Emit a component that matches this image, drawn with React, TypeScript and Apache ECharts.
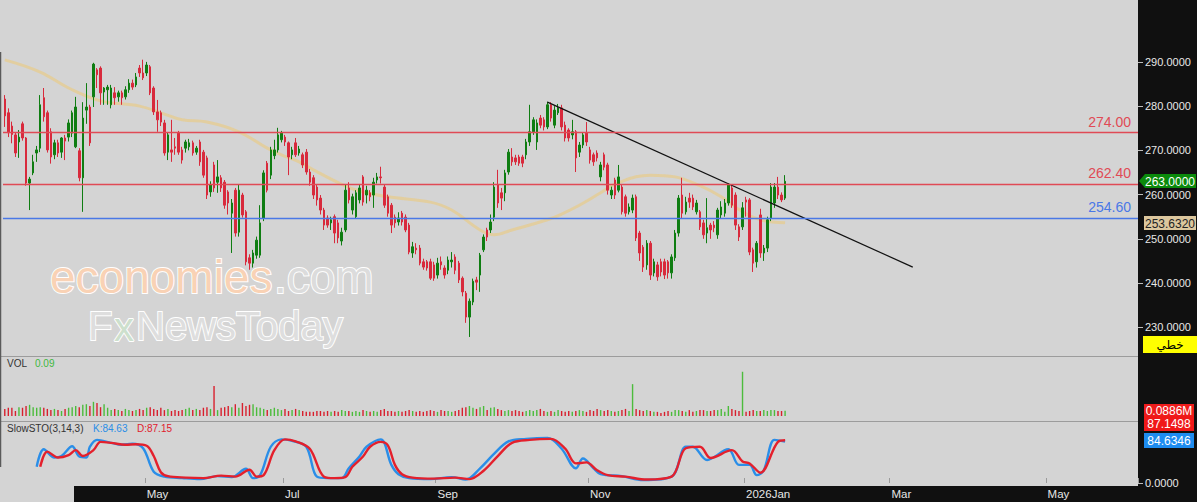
import React, { useEffect, useRef } from 'react';
import * as echarts from 'echarts';

// ---------- data ----------
// one row per trading day: [open, close, low, high]
const ohlc: number[][] = [
  [281.6, 277.8, 275.3, 282.5], [278.5, 274.0, 273.0, 279.5], [275.5, 273.6, 271.6, 276.5], [273.5, 269.4, 268.5, 274.0],
  [271.9, 273.0, 268.3, 274.6], [276.0, 272.8, 272.2, 276.5], [272.8, 262.6, 262.0, 273.0], [262.6, 263.5, 256.5, 264.0],
  [264.9, 267.4, 264.4, 269.0], [269.4, 270.1, 267.4, 271.0], [270.5, 280.3, 269.6, 282.5], [281.9, 277.6, 276.5, 284.1],
  [278.5, 270.1, 269.5, 279.0], [274.2, 268.5, 267.0, 275.0], [269.0, 271.7, 268.0, 272.4], [271.7, 269.4, 268.5, 272.4],
  [269.6, 272.8, 268.3, 273.0], [272.8, 272.1, 267.8, 273.5], [273.0, 276.2, 272.0, 277.0], [273.9, 278.5, 273.0, 279.0],
  [270.8, 279.8, 270.5, 282.1], [269.9, 263.8, 263.0, 270.5], [263.8, 277.3, 256.1, 280.9], [279.1, 279.8, 276.0, 285.2],
  [279.8, 271.7, 271.0, 280.3], [282.1, 289.5, 279.8, 289.8], [288.2, 287.1, 284.1, 288.6], [288.6, 283.0, 280.3, 289.0],
  [283.2, 284.1, 280.3, 284.3], [283.7, 284.3, 280.3, 284.8], [280.3, 284.1, 279.5, 284.8], [283.0, 281.9, 280.3, 284.3],
  [282.1, 283.0, 281.0, 283.5], [283.0, 281.9, 280.3, 283.5], [282.1, 283.7, 281.5, 284.5], [283.7, 285.2, 283.0, 286.1],
  [285.2, 284.3, 283.7, 286.0], [284.8, 286.6, 284.3, 287.5], [288.6, 287.5, 286.6, 289.3], [287.5, 286.4, 285.9, 290.5],
  [287.5, 289.3, 286.8, 290.0], [288.9, 283.0, 282.5, 289.3], [284.1, 278.7, 278.0, 284.5], [278.7, 276.9, 274.2, 281.4],
  [278.5, 276.4, 275.5, 279.0], [276.2, 269.4, 268.8, 276.9], [269.6, 273.5, 267.8, 274.0], [270.1, 269.6, 267.4, 276.9],
  [270.8, 270.5, 269.0, 272.8], [273.9, 269.6, 269.0, 274.4], [270.1, 267.8, 267.0, 270.8], [270.5, 271.9, 269.5, 272.4],
  [270.8, 271.7, 270.0, 272.6], [271.7, 269.4, 268.8, 272.2], [269.6, 270.5, 269.0, 271.0], [271.9, 267.4, 266.5, 272.4],
  [269.6, 264.4, 263.8, 270.1], [268.3, 259.9, 259.0, 268.8], [260.6, 262.2, 259.5, 263.0], [266.7, 261.5, 260.6, 267.4],
  [262.8, 264.0, 260.4, 267.8], [263.8, 261.5, 260.6, 264.4], [262.8, 257.6, 256.8, 263.3], [260.6, 258.1, 255.5, 261.0],
  [255.8, 258.1, 246.8, 259.0], [261.0, 251.3, 250.5, 261.5], [251.5, 261.0, 250.5, 262.2], [259.9, 255.4, 254.8, 260.4],
  [256.1, 244.8, 244.0, 256.5], [245.7, 244.5, 243.0, 246.5], [244.5, 246.8, 243.5, 247.5], [246.3, 249.7, 245.5, 250.5],
  [246.3, 253.6, 245.7, 257.6], [254.7, 264.9, 254.0, 265.5], [267.1, 261.0, 260.5, 267.6], [264.4, 270.1, 263.5, 270.8],
  [268.8, 270.1, 268.0, 272.4], [270.1, 273.5, 269.5, 275.1], [272.4, 273.9, 271.8, 274.4], [273.0, 271.9, 271.0, 273.5],
  [271.7, 268.5, 264.4, 272.0], [269.0, 270.1, 268.0, 270.8], [271.7, 269.0, 268.5, 272.8], [269.4, 270.3, 268.8, 271.0],
  [269.0, 266.7, 266.0, 269.5], [269.6, 265.1, 264.5, 270.3], [265.1, 262.8, 262.0, 265.8], [263.8, 259.9, 259.0, 264.4],
  [261.7, 258.8, 257.5, 262.2], [259.2, 256.5, 255.5, 259.9], [256.5, 253.1, 252.0, 257.0], [254.7, 253.1, 252.5, 255.3],
  [253.6, 254.3, 252.0, 255.0], [255.0, 251.3, 249.0, 255.5], [253.6, 250.2, 249.0, 254.3], [249.5, 251.5, 248.5, 252.5],
  [252.0, 261.0, 251.5, 262.2], [261.5, 258.8, 258.0, 262.8], [256.5, 259.5, 255.5, 260.2], [255.0, 260.4, 254.5, 261.0],
  [258.8, 261.5, 258.0, 262.2], [264.0, 258.3, 257.5, 264.4], [259.9, 261.0, 258.0, 262.0], [260.4, 259.5, 258.5, 261.0],
  [259.9, 262.8, 257.0, 263.8], [263.3, 264.0, 262.5, 264.9], [264.0, 263.8, 262.5, 266.3], [261.7, 257.6, 257.0, 262.2],
  [259.5, 255.8, 255.0, 260.0], [257.6, 253.1, 251.3, 258.1], [254.9, 253.6, 252.5, 255.5], [253.8, 254.7, 253.0, 256.0],
  [255.8, 253.8, 253.0, 256.3], [254.9, 252.0, 251.5, 255.5], [253.1, 247.0, 246.5, 253.6], [246.8, 248.2, 245.7, 249.3],
  [247.9, 247.5, 246.5, 249.0], [247.9, 244.5, 244.0, 248.6], [244.8, 243.6, 243.0, 245.5], [244.8, 243.4, 242.8, 245.2],
  [244.8, 241.1, 240.7, 245.5], [244.1, 241.1, 240.5, 244.8], [241.8, 244.5, 241.0, 245.7], [244.8, 244.1, 243.0, 246.0],
  [243.4, 241.8, 241.0, 244.0], [242.9, 245.2, 242.0, 246.0], [244.8, 245.2, 243.5, 247.0], [245.9, 242.9, 242.0, 246.5],
  [244.5, 240.7, 240.0, 245.0], [241.1, 238.0, 237.0, 241.5], [237.7, 232.3, 231.0, 238.2], [232.3, 235.9, 227.8, 236.5],
  [235.7, 240.4, 235.0, 241.0], [240.7, 240.2, 238.4, 241.4], [241.8, 246.3, 238.0, 246.8], [247.5, 250.4, 247.0, 251.0],
  [252.0, 250.4, 249.5, 252.5], [252.0, 253.8, 251.3, 255.5], [254.9, 261.7, 254.0, 262.8], [262.2, 258.1, 257.0, 265.6],
  [260.4, 259.2, 256.5, 261.5], [260.4, 264.9, 258.5, 265.6], [265.1, 269.6, 264.5, 270.3], [268.5, 267.4, 266.5, 270.5],
  [268.3, 267.4, 266.7, 269.0], [268.5, 267.1, 266.5, 269.0], [268.5, 267.1, 266.2, 269.0], [269.0, 271.9, 268.0, 272.6],
  [271.9, 274.2, 271.0, 280.3], [274.2, 276.9, 273.5, 277.5], [271.9, 276.2, 270.1, 277.0], [277.3, 275.7, 275.0, 278.0],
  [276.9, 275.3, 274.5, 277.5], [275.3, 280.3, 274.8, 281.0], [280.3, 277.3, 276.5, 280.9], [275.7, 279.1, 275.0, 280.0],
  [278.5, 279.6, 278.0, 280.5], [279.6, 275.3, 274.5, 280.3], [275.7, 272.8, 272.0, 276.5], [274.6, 272.8, 272.0, 275.0],
  [273.5, 274.2, 272.5, 276.9], [274.2, 268.3, 265.1, 274.6], [269.6, 271.2, 268.5, 271.9], [271.2, 273.5, 270.5, 274.0],
  [273.9, 271.9, 271.0, 276.4], [270.1, 267.8, 267.0, 270.8], [269.0, 267.4, 266.5, 269.5], [269.4, 268.3, 267.5, 270.0],
  [264.0, 266.7, 263.0, 267.4], [269.0, 266.2, 265.5, 269.5], [266.7, 261.0, 260.0, 267.2], [259.9, 261.0, 259.0, 261.8],
  [263.3, 259.9, 259.0, 263.8], [261.0, 264.0, 260.5, 266.7], [261.7, 256.1, 255.5, 262.2], [259.5, 255.8, 255.0, 260.0],
  [256.1, 257.2, 255.5, 258.0], [256.5, 259.2, 255.8, 260.0], [259.5, 250.2, 249.5, 260.0], [251.3, 246.8, 245.0, 251.8],
  [248.1, 243.6, 242.5, 248.6], [244.1, 249.0, 243.0, 249.7], [249.0, 241.8, 240.7, 249.5], [242.3, 244.8, 241.5, 245.5],
  [244.1, 241.4, 240.5, 244.8], [244.8, 242.5, 241.5, 245.5], [244.8, 241.8, 240.9, 245.5], [244.8, 242.3, 241.0, 245.2],
  [242.3, 245.9, 241.0, 246.5], [245.7, 251.3, 245.0, 252.0], [251.3, 259.2, 250.5, 259.9], [259.9, 255.8, 254.5, 263.8],
  [256.1, 258.3, 255.5, 259.5], [259.2, 258.3, 257.0, 260.4], [259.2, 257.2, 256.5, 260.0], [256.1, 258.1, 255.5, 258.8],
  [256.1, 252.7, 252.0, 256.5], [253.6, 250.9, 250.0, 254.3], [251.3, 252.5, 249.0, 259.2], [253.1, 252.0, 250.0, 253.6],
  [253.1, 252.5, 251.5, 254.0], [250.9, 256.5, 250.0, 257.0], [255.4, 257.2, 254.5, 258.5], [255.8, 258.1, 255.0, 259.0],
  [258.1, 262.2, 257.5, 262.6], [261.5, 257.6, 257.0, 262.2], [259.9, 253.1, 252.0, 260.5], [252.7, 250.4, 249.5, 253.3],
  [252.7, 257.0, 252.0, 258.3], [258.8, 258.3, 255.0, 259.5], [258.8, 247.0, 246.3, 259.2], [247.5, 244.5, 242.5, 248.0],
  [244.8, 249.0, 243.5, 249.5], [255.4, 246.8, 245.7, 256.8], [246.8, 247.9, 245.0, 248.6], [247.9, 254.3, 247.0, 255.0],
  [254.7, 261.7, 254.0, 262.6], [258.1, 261.7, 257.0, 262.6], [261.7, 259.9, 259.0, 264.0], [259.9, 258.8, 258.3, 260.5],
  [259.2, 263.0, 258.8, 264.4],
];

// volume in millions, one per trading day
const volumes: number[] = [
  0.12, 0.14, 0.14, 0.085, 0.15, 0.14, 0.17, 0.19, 0.15, 0.14,
  0.15, 0.14, 0.12, 0.10, 0.12, 0.10, 0.085, 0.12, 0.14, 0.15,
  0.17, 0.15, 0.19, 0.20, 0.17, 0.24, 0.22, 0.15, 0.20, 0.14,
  0.10, 0.12, 0.10, 0.085, 0.12, 0.10, 0.085, 0.10, 0.12, 0.10,
  0.14, 0.15, 0.12, 0.10, 0.14, 0.10, 0.12, 0.085, 0.10, 0.085,
  0.10, 0.12, 0.14, 0.10, 0.12, 0.10, 0.14, 0.15, 0.12, 0.51,
  0.10, 0.14, 0.15, 0.17, 0.15, 0.20, 0.14, 0.22, 0.17, 0.19,
  0.20, 0.15, 0.14, 0.12, 0.10, 0.12, 0.14, 0.12, 0.10, 0.12,
  0.085, 0.10, 0.12, 0.10, 0.085, 0.07, 0.07, 0.07, 0.085, 0.085,
  0.07, 0.085, 0.07, 0.085, 0.07, 0.10, 0.085, 0.085, 0.07, 0.085,
  0.07, 0.10, 0.085, 0.07, 0.085, 0.07, 0.10, 0.12, 0.085, 0.085,
  0.07, 0.085, 0.07, 0.085, 0.10, 0.085, 0.07, 0.085, 0.07, 0.085,
  0.10, 0.085, 0.07, 0.10, 0.085, 0.085, 0.07, 0.085, 0.10, 0.14,
  0.15, 0.17, 0.14, 0.12, 0.15, 0.17, 0.10, 0.14, 0.15, 0.12,
  0.10, 0.085, 0.10, 0.085, 0.10, 0.085, 0.07, 0.085, 0.10, 0.085,
  0.10, 0.12, 0.085, 0.07, 0.085, 0.07, 0.10, 0.085, 0.07, 0.085,
  0.07, 0.085, 0.10, 0.085, 0.07, 0.10, 0.085, 0.12, 0.10, 0.085,
  0.10, 0.085, 0.07, 0.085, 0.10, 0.12, 0.085, 0.54, 0.12, 0.10,
  0.085, 0.10, 0.085, 0.07, 0.07, 0.05, 0.07, 0.085, 0.07, 0.10,
  0.10, 0.085, 0.07, 0.10, 0.07, 0.085, 0.10, 0.10, 0.085, 0.085,
  0.10, 0.10, 0.12, 0.07, 0.17, 0.12, 0.10, 0.085, 0.75, 0.07,
  0.085, 0.10, 0.085, 0.085, 0.10, 0.085, 0.10, 0.10, 0.085, 0.085,
  0.0886,
];

// moving average read at selected bars: [bar index, value]
const maPoints: number[][] = [
  [0, 290.45], [10, 287.7], [18, 284.1], [27, 281.2], [38, 280.0], [45, 278.2], [50, 276.9], [57, 276.4],
  [66, 274.2], [74, 270.5], [78, 269.0], [83, 267.4], [87, 265.6], [94, 262.7], [100, 260.8], [108, 259.5],
  [120, 258.3], [126, 256.5], [134, 252.0], [138, 250.9], [143, 252.0], [153, 254.3], [157, 255.6], [162, 257.6],
  [168, 260.4], [173, 262.7], [182, 264.4], [189, 264.0], [196, 262.0], [202, 259.5], [208, 256.1], [213, 254.3],
  [220, 253.632],
];

// slow stochastic %K and %D read at selected bars: [bar index, value]
const kPoints: number[][] = [
  [9, 33], [11, 69], [14, 52], [16, 55], [19, 75], [21, 54], [23, 52], [24, 74], [26, 88], [30, 82], [33, 78],
  [36, 80], [39, 71], [42, 23], [45, 13], [50, 10], [55, 8], [60, 14], [64, 12], [68, 29], [70, 10], [72, 16],
  [75, 74], [78, 89], [81, 86], [85, 74], [88, 13], [91, 10], [95, 10], [97, 30], [100, 54], [102, 74], [106, 89],
  [109, 37], [111, 18], [114, 10], [120, 8], [126, 12], [130, 7], [134, 30], [138, 60], [142, 85], [147, 90],
  [153, 92], [157, 70], [161, 30], [163, 50], [166, 30], [168, 18], [174, 14], [180, 6], [188, 13], [192, 74],
  [194, 74], [198, 47], [204, 69], [207, 37], [210, 37], [212, 16], [214, 26], [217, 88], [220, 84.63],
];
const dPoints: number[][] = [
  [10, 33], [12, 64], [15, 52], [18, 57], [20, 67], [22, 55], [25, 67], [27, 84], [30, 82], [34, 78], [37, 79],
  [40, 76], [42, 55], [44, 22], [46, 14], [51, 11], [56, 10], [61, 15], [65, 13], [69, 27], [71, 13], [73, 16],
  [76, 67], [79, 89], [82, 85], [86, 70], [90, 13], [93, 10], [96, 12], [98, 33], [101, 54], [103, 74], [106, 84],
  [108, 77], [110, 37], [112, 18], [115, 11], [121, 9], [127, 11], [131, 8], [135, 25], [139, 55], [143, 82],
  [148, 88], [154, 90], [158, 70], [161, 40], [164, 42], [167, 26], [170, 16], [175, 13], [181, 7], [188, 13],
  [192, 71], [196, 74], [199, 51], [205, 67], [208, 44], [210, 40], [213, 21], [218, 84], [220, 87.15],
];

// trend line end points: [bar index, value]
const trendPoints: number[][] = [[153, 280.9], [256, 243.6]];

// horizontal levels
const levelValues = [274.0, 262.4, 254.6];
const levelColors = ['#e04a55', '#e04a55', '#4a78e6'];

// axis ticks
const priceTicks = [230, 240, 250, 260, 270, 280, 290];
const slotCount = 320;
const monthTickIndex = [40, 79, 122, 165, 209, 250, 294];
const monthLabels = ['May', 'Jul', 'Sep', 'Nov', '2026Jan', 'Mar', 'May'];

// last-value tags
const lastPrice = '263.0000';
const lastMa = '253.6320';
const lastVol = '0.0886M';
const lastD = '87.1498';
const lastK = '84.6346';

// ---------- layout ----------
const FONT = '"Liberation Sans", Arial, sans-serif';
const UP = '#0f7d12';
const DOWN = '#d82a3c';
const VUP = '#4cbc3c';
const VDOWN = '#d8202e';

export default function App() {
  const ref = useRef<HTMLDivElement>(null);

  useEffect(() => {
    document.body.style.margin = '0';
    const chart = echarts.init(ref.current!, null, { renderer: 'svg' });

    const categories = Array.from({ length: slotCount }, (_, i) => String(i));
    const tickSet = new Set(monthTickIndex);
    const labelOf: Record<number, string> = {};
    monthTickIndex.forEach((idx, i) => (labelOf[idx] = monthLabels[i]));

    const gridL = 3;
    const gridR = 59;
    const hiddenX = (gi: number) => ({
      type: 'category',
      gridIndex: gi,
      data: categories,
      boundaryGap: true,
      axisLine: { show: false },
      axisTick: { show: false },
      axisLabel: { show: false },
      splitLine: { show: false },
    });

    const volData = volumes.map((v, i) => ({
      value: v,
      itemStyle: { color: ohlc[i][1] >= ohlc[i][0] ? VUP : VDOWN },
    }));

    const txt = (text: string, x: number, y: number, fill: string, size: number) => ({
      type: 'text',
      x,
      y,
      z: 50,
      silent: true,
      style: {
        text,
        fill,
        font: `${size}px ${FONT}`,
        textAlign: 'left',
        textVerticalAlign: 'middle',
      },
    });

    const mark = (text: string, x: number, y: number, size: number, fill: string) => ({
      type: 'text',
      z: -5,
      silent: true,
      x,
      y,
      style: {
        text,
        font: `${size}px ${FONT}`,
        fill,
        stroke: '#ffffff',
        lineWidth: 2,
        textAlign: 'left',
        textVerticalAlign: 'middle',
      },
    });

    const tag = (text: string, x: number, y: number, w: number, h: number, bg: string, fg: string, font?: string) => [
      { type: 'rect', z: 60, silent: true, shape: { x, y, width: w, height: h }, style: { fill: bg } },
      {
        type: 'text',
        z: 61,
        silent: true,
        x: x + w / 2,
        y: y + h / 2 + 0.5,
        style: { text, fill: fg, font: font || `12px ${FONT}`, textAlign: 'center', textVerticalAlign: 'middle' },
      },
    ];

    const graphic: any[] = [
      // black right scale strip and bottom time bar
      { type: 'rect', z: -10, silent: true, shape: { x: 1138, y: 0, width: 59, height: 502 }, style: { fill: '#101010' } },
      { type: 'rect', z: -10, silent: true, shape: { x: 74, y: 486, width: 1064, height: 16 }, style: { fill: '#101010' } },
      // panel separators
      { type: 'line', z: -9, silent: true, shape: { x1: 0, y1: 356.5, x2: 1138, y2: 356.5 }, style: { stroke: '#9c9c9c', lineWidth: 1 } },
      { type: 'line', z: -9, silent: true, shape: { x1: 0, y1: 421.5, x2: 1138, y2: 421.5 }, style: { stroke: '#9c9c9c', lineWidth: 1 } },
      { type: 'line', z: -9, silent: true, shape: { x1: 0.5, y1: 52, x2: 0.5, y2: 467 }, style: { stroke: '#5a5a5a', lineWidth: 1.5 } },
      // watermark
      mark('economies', 50, 277, 46, '#f9d2b5'),
      mark('.com', 274, 277, 46, '#dcdcdc'),
      mark('F', 88, 326, 40, '#dedede'),
      mark('x', 114, 327, 40, '#cde0cd'),
      mark('NewsToday', 136, 326, 40, '#dedede'),
      // panel legends
      txt('VOL', 7, 363, '#333333', 10),
      txt('0.09', 35, 363, '#3fb83f', 10),
      txt('SlowSTO(3,14,3)', 7, 428, '#333333', 10),
      txt('K:84.63', 93, 428, '#2a8ee6', 10),
      txt('D:87.15', 137, 428, '#e0202c', 10),
      // last price tag with arrow
      {
        type: 'polygon', z: 60, silent: true,
        shape: { points: [[1139, 181], [1145, 174], [1196, 174], [1196, 188], [1145, 188]] },
        style: { fill: '#0b8a0b' },
      },
      {
        type: 'text', z: 61, silent: true, x: 1170, y: 181.5,
        style: { text: lastPrice, fill: '#ffffff', font: `12px ${FONT}`, textAlign: 'center', textVerticalAlign: 'middle' },
      },
      ...tag(lastMa, 1144, 216, 52, 14, '#dcc79e', '#222222'),
      ...tag('خطي', 1143, 336, 54, 17, '#ffff00', '#000000', '12px "DejaVu Sans", sans-serif'),
      ...tag(lastVol, 1144, 404, 50, 13, '#ee1c1c', '#ffffff'),
      ...tag(lastD, 1144, 416, 50, 15, '#f01818', '#ffffff'),
      ...tag(lastK, 1144, 433, 50, 15, '#1e8cf0', '#ffffff'),
    ];

    const option: any = {
      animation: false,
      backgroundColor: '#d4d4d4',
      textStyle: { fontFamily: FONT },
      grid: [
        { left: gridL, right: gridR, top: 0, height: 356 },
        { left: gridL, right: gridR, top: 357, height: 59 },
        { left: gridL, right: gridR, top: 434, height: 49 },
      ],
      xAxis: [
        hiddenX(0),
        hiddenX(1),
        {
          ...hiddenX(2),
          axisTick: {
            show: true,
            inside: true,
            length: 5,
            interval: (i: number) => tickSet.has(i),
            lineStyle: { color: '#9a9a9a' },
          },
          axisLabel: {
            show: true,
            interval: (i: number) => tickSet.has(i),
            formatter: (v: string) => labelOf[Number(v)] ?? '',
            color: '#e6e6e6',
            fontSize: 11.5,
            fontFamily: FONT,
            align: 'left',
            margin: 5,
          },
        },
      ],
      yAxis: [
        {
          type: 'value',
          gridIndex: 0,
          position: 'right',
          min: 223.5,
          max: 304,
          splitLine: { show: false },
          axisLine: { show: false },
          axisTick: { show: true, length: 5, customValues: priceTicks, lineStyle: { color: '#bdbdbd' } },
          axisLabel: {
            customValues: priceTicks,
            formatter: (v: number) => (v >= 229 && v <= 291 ? v.toFixed(4) : ''),
            color: '#e8e8e8',
            fontSize: 11,
            fontFamily: FONT,
            margin: 7,
          },
        },
        { type: 'value', gridIndex: 1, min: 0, max: 1, show: false },
        {
          type: 'value',
          gridIndex: 2,
          position: 'right',
          min: 0,
          max: 100,
          splitLine: { show: false },
          axisLine: { show: false },
          axisTick: { show: true, length: 5, customValues: [0], lineStyle: { color: '#bdbdbd' } },
          axisLabel: {
            customValues: [0],
            formatter: (v: number) => (v === 0 ? v.toFixed(4) : ''),
            color: '#e8e8e8',
            fontSize: 11,
            fontFamily: FONT,
            margin: 7,
          },
        },
      ],
      series: [
        {
          type: 'line',
          name: 'MA',
          xAxisIndex: 0,
          yAxisIndex: 0,
          data: maPoints,
          smooth: 0.4,
          showSymbol: false,
          z: 1,
          lineStyle: { color: '#e3cd9a', width: 3, opacity: 0.9 },
        },
        {
          type: 'candlestick',
          xAxisIndex: 0,
          yAxisIndex: 0,
          data: ohlc,
          barWidth: 2,
          z: 2,
          itemStyle: {
            color: UP,
            color0: DOWN,
            borderColor: UP,
            borderColor0: DOWN,
            borderWidth: 1,
          },
          markLine: {
            symbol: ['none', 'none'],
            silent: true,
            animation: false,
            data: levelValues.map((v, i) => ({
              yAxis: v,
              lineStyle: { color: levelColors[i], width: 1.3, type: 'solid' },
              label: {
                show: true,
                position: 'insideEndTop',
                formatter: v.toFixed(2),
                color: levelColors[i],
                fontSize: 14,
                fontFamily: FONT,
                distance: [7, 4],
              },
            })),
          },
        },
        {
          type: 'line',
          name: 'trend',
          xAxisIndex: 0,
          yAxisIndex: 0,
          data: trendPoints,
          showSymbol: false,
          z: 3,
          lineStyle: { color: '#111111', width: 1.2 },
        },
        {
          type: 'bar',
          name: 'VOL',
          xAxisIndex: 1,
          yAxisIndex: 1,
          data: volData,
          barWidth: 1.4,
        },
        {
          type: 'line',
          name: 'K',
          xAxisIndex: 2,
          yAxisIndex: 2,
          data: kPoints,
          smooth: 0.35,
          showSymbol: false,
          lineStyle: { color: '#2a8ee8', width: 2.4 },
        },
        {
          type: 'line',
          name: 'D',
          xAxisIndex: 2,
          yAxisIndex: 2,
          data: dPoints,
          smooth: 0.35,
          showSymbol: false,
          lineStyle: { color: '#e4202c', width: 2.4 },
        },
      ],
      graphic: { elements: graphic },
    };

    chart.setOption(option);
    return () => chart.dispose();
  }, []);

  return <div ref={ref} style={{ width: 1197, height: 502 }} />;
}
